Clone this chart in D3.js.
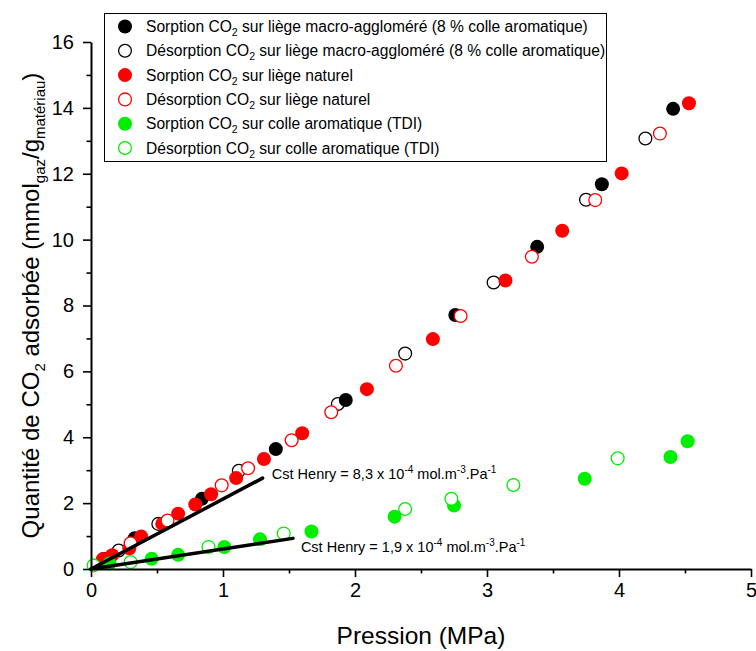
<!DOCTYPE html>
<html>
<head>
<meta charset="utf-8">
<script src="https://cdn.jsdelivr.net/npm/d3@7"></script>
<style>
  body { margin: 0; background: #fff; }
  svg { display: block; font-family: Arial, "Liberation Sans", sans-serif; }
</style>
</head>
<body>
<svg id="chart" width="756" height="651"></svg>
<script>
// ---------- data ----------
const xTicks = [0, 1, 2, 3, 4, 5];
const yTicks = [0, 2, 4, 6, 8, 10, 12, 14, 16];

const macroSorption = [
  [0.33, 0.93], [0.84, 2.13], [1.40, 3.64], [1.93, 5.13], [2.76, 7.71],
  [3.38, 9.78], [3.87, 11.68], [4.41, 13.97]
];
const macroDesorption = [
  [0.10, 0.30], [0.21, 0.56], [0.51, 1.37], [1.12, 2.98], [1.87, 5.01],
  [2.38, 6.54], [3.05, 8.70], [3.75, 11.21], [4.20, 13.07]
];
const naturelSorption = [
  [0.09, 0.30], [0.16, 0.42], [0.29, 0.63], [0.38, 0.99], [0.54, 1.37],
  [0.66, 1.68], [0.79, 1.96], [0.91, 2.27], [1.10, 2.76], [1.31, 3.34],
  [1.60, 4.12], [2.09, 5.46], [2.59, 6.98], [3.14, 8.76], [3.57, 10.27],
  [4.02, 12.01], [4.53, 14.14]
];
const naturelDesorption = [
  [0.30, 0.78], [0.58, 1.47], [0.99, 2.54], [1.19, 3.06], [1.52, 3.91],
  [1.82, 4.76], [2.31, 6.17], [2.80, 7.68], [3.34, 9.48], [3.82, 11.20],
  [4.31, 13.22]
];
const colleSorption = [
  [0.14, 0.17], [0.46, 0.31], [0.66, 0.43], [1.01, 0.67], [1.28, 0.90],
  [1.67, 1.14], [2.30, 1.59], [2.75, 1.93], [3.74, 2.74], [4.39, 3.40],
  [4.52, 3.88]
];
const colleDesorption = [
  [0.02, 0.11], [0.30, 0.21], [0.89, 0.67], [1.46, 1.08], [2.38, 1.82],
  [2.73, 2.13], [3.20, 2.55], [3.99, 3.36]
];
const henryLines = [
  { pts: [[0, 0], [1.30, 2.76]], label: ["Cst Henry = 8,3 x 10", "-4", " mol.m", "-3", ".Pa", "-1"], at: [1.37, 2.73] },
  { pts: [[0, 0], [1.53, 0.93]], label: ["Cst Henry = 1,9 x 10", "-4", " mol.m", "-3", ".Pa", "-1"], at: [1.59, 0.53] }
];

const legendLabels = [
  ["Sorption CO", "2", " sur liège macro-aggloméré (8 % colle aromatique)"],
  ["Désorption CO", "2", " sur liège macro-aggloméré (8 % colle aromatique)"],
  ["Sorption CO", "2", " sur liège naturel"],
  ["Désorption CO", "2", " sur liège naturel"],
  ["Sorption CO", "2", " sur colle aromatique (TDI)"],
  ["Désorption CO", "2", " sur colle aromatique (TDI)"]
];
const seriesData = [macroSorption, macroDesorption, naturelSorption, naturelDesorption, colleSorption, colleDesorption];
const seriesColors = ["#000000", "#000000", "#ff0000", "#ff0000", "#00ee00", "#00ee00"];
const seriesFilled = [true, false, true, false, true, false];
const drawOrder = [1, 0, 2, 3, 4, 5];

// ---------- layout ----------
const svg = d3.select("#chart");
const x = d3.scaleLinear().domain([0, 5]).range([91, 751]);
const y = d3.scaleLinear().domain([0, 16]).range([569, 42]);
const R = 7;

// points
drawOrder.forEach(i => {
  svg.append("g").selectAll("circle").data(seriesData[i]).join("circle")
    .attr("cx", d => x(d[0])).attr("cy", d => y(d[1])).attr("r", seriesFilled[i] ? R : R - 0.6)
    .attr("fill", seriesFilled[i] ? seriesColors[i] : "#fff")
    .attr("stroke", seriesColors[i]).attr("stroke-width", seriesFilled[i] ? 0 : 1.3);
});

// henry lines (drawn over the markers)
const line = d3.line().x(d => x(d[0])).y(d => y(d[1]));
henryLines.forEach(h => {
  svg.append("path").attr("d", line(h.pts)).attr("stroke", "#000").attr("stroke-width", 3.5)
    .attr("fill", "none").attr("stroke-linecap", "round");
});

// henry labels
henryLines.forEach(h => {
  const t = svg.append("text").attr("x", x(h.at[0])).attr("y", y(h.at[1]))
    .attr("font-size", 14.5).attr("fill", "#000");
  h.label.forEach((s, k) => {
    const sup = k % 2 === 1;
    t.append("tspan").text(s)
      .attr("font-size", sup ? 10 : 14.5)
      .attr("dy", sup ? -6 : (k > 0 ? 6 : 0));
  });
});

// axes
svg.append("g").attr("transform", `translate(0,${y(0)})`)
  .call(d3.axisBottom(x).tickValues(xTicks).tickSize(8).tickSizeOuter(0).tickPadding(6).tickFormat(d3.format("d")));
svg.append("g").attr("transform", `translate(0,${y(0)})`)
  .call(d3.axisBottom(x).tickValues(d3.range(0.5, 5, 1)).tickSize(4.5).tickSizeOuter(0).tickFormat(""))
  .select(".domain").remove();
svg.append("g").attr("transform", `translate(${x(0)},0)`)
  .call(d3.axisLeft(y).tickValues(yTicks).tickSize(8).tickSizeOuter(0).tickPadding(9).tickFormat(d3.format("d")));
svg.append("g").attr("transform", `translate(${x(0)},0)`)
  .call(d3.axisLeft(y).tickValues(d3.range(1, 16, 2)).tickSize(4.5).tickSizeOuter(0).tickFormat(""))
  .select(".domain").remove();
svg.selectAll(".domain").attr("stroke-width", 2);
svg.selectAll(".tick line").attr("stroke-width", 1.6);
svg.selectAll(".tick text").attr("font-size", 20).attr("font-family", "Arial, 'Liberation Sans', sans-serif").attr("fill", "#000");

// axis titles
svg.append("text").attr("x", x(2.5)).attr("y", 644).attr("text-anchor", "middle")
  .attr("font-size", 24.5).text("Pression (MPa)");
const yt = svg.append("text").attr("transform", `translate(39,${(y(0) + y(16)) / 2}) rotate(-90)`)
  .attr("text-anchor", "middle").attr("font-size", 24);
[["Quantité de CO", 0], ["2", 1], [" adsorbée (mmol", 0], ["gaz", 1], ["/g", 0], ["matériau", 1], [")", 0]]
  .forEach(([s, sub], k) => {
    yt.append("tspan").text(s).attr("font-size", sub ? 15 : 24)
      .attr("dy", sub ? 6 : (k > 0 ? -6 : 0));
  });

// legend
const lg = svg.append("g");
lg.append("rect").attr("x", 104.5).attr("y", 13.5).attr("width", 502).attr("height", 148)
  .attr("fill", "#fff").attr("stroke", "#000").attr("stroke-width", 1);
legendLabels.forEach((lab, i) => {
  const cy = 26.5 + i * 24.3;
  lg.append("circle").attr("cx", 125).attr("cy", cy).attr("r", seriesFilled[i] ? R : R - 0.6)
    .attr("fill", seriesFilled[i] ? seriesColors[i] : "#fff")
    .attr("stroke", seriesColors[i]).attr("stroke-width", seriesFilled[i] ? 0 : 1.3);
  const t = lg.append("text").attr("x", 146).attr("y", cy + 5.5).attr("font-size", 15.6);
  t.append("tspan").text(lab[0]);
  t.append("tspan").text(lab[1]).attr("font-size", 10.5).attr("dy", 4);
  t.append("tspan").text(lab[2]).attr("dy", -4);
});
</script>
</body>
</html>
